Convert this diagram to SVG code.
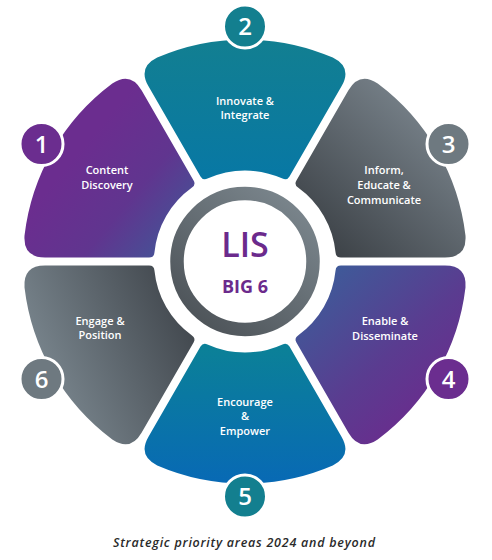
<svg xmlns="http://www.w3.org/2000/svg" width="492" height="560" viewBox="0 0 492 560">
<defs>
<path id="petal" d="M -44.5,-85.06 L -96.52,-175.17 Q -107.52,-194.22 -87.77,-203.92 A 222 222 0 0 1 87.77,-203.92 Q 107.52,-194.22 96.52,-175.17 L 44.5,-85.06 Q 42.0,-80.73 37.51,-82.91 A 91 91 0 0 0 -37.51,-82.91 Q -42.0,-80.73 -44.5,-85.06 Z"/>
<linearGradient id="g2" gradientUnits="userSpaceOnUse" x1="245" y1="40" x2="245" y2="175" gradientTransform="translate(-245 -261.5)">
<stop offset="0" stop-color="#127f91"/><stop offset="1" stop-color="#0878a4"/></linearGradient>
<linearGradient id="g3" gradientUnits="userSpaceOnUse" x1="420" y1="110" x2="300" y2="240" gradientTransform="rotate(-60) translate(-245 -261.5)">
<stop offset="0" stop-color="#757f87"/><stop offset="1" stop-color="#393e43"/></linearGradient>
<linearGradient id="g4" gradientUnits="userSpaceOnUse" x1="300" y1="280" x2="430" y2="420" gradientTransform="rotate(-120) translate(-245 -261.5)">
<stop offset="0" stop-color="#3b5e9a"/><stop offset="0.6" stop-color="#5a3c90"/><stop offset="1" stop-color="#6b2b8d"/></linearGradient>
<linearGradient id="g5" gradientUnits="userSpaceOnUse" x1="245" y1="350" x2="245" y2="485" gradientTransform="rotate(-180) translate(-245 -261.5)">
<stop offset="0" stop-color="#0b8098"/><stop offset="1" stop-color="#0869b5"/></linearGradient>
<linearGradient id="g6" gradientUnits="userSpaceOnUse" x1="40" y1="360" x2="200" y2="290" gradientTransform="rotate(-240) translate(-245 -261.5)">
<stop offset="0" stop-color="#77838b"/><stop offset="1" stop-color="#3b4046"/></linearGradient>
<linearGradient id="g1" gradientUnits="userSpaceOnUse" x1="80" y1="150" x2="200" y2="250" gradientTransform="rotate(-300) translate(-245 -261.5)">
<stop offset="0" stop-color="#6b2d8f"/><stop offset="0.45" stop-color="#60358f"/><stop offset="1" stop-color="#3b5d99"/></linearGradient>
<linearGradient id="gring" gradientUnits="userSpaceOnUse" x1="295" y1="200" x2="190" y2="330">
<stop offset="0" stop-color="#7a858c"/><stop offset="1" stop-color="#4b5156"/></linearGradient>
<style>
.lbl{fill:#ffffff;font-family:"Open Sans","DejaVu Sans",sans-serif;font-size:11px;font-weight:600;text-anchor:middle}
.num{fill:#ffffff;font-family:"Open Sans","DejaVu Sans",sans-serif;font-size:24px;font-weight:600;text-anchor:middle}
.badge{stroke:#ffffff;stroke-width:3}
.purple{fill:#6b2d8f}
.teal{fill:#137f8f}
.grey{fill:#6e7980}
</style>
</defs>
<rect width="492" height="560" fill="#ffffff"/>
<g id="connectors"></g>
<g id="center">
<circle cx="245" cy="261.5" r="68" fill="none" stroke="url(#gring)" stroke-width="13.5"/>
<text x="245" y="257" fill="#6b2a8c" font-family="Open Sans, DejaVu Sans, sans-serif" font-size="34" font-weight="600" text-anchor="middle">LIS</text>
<text x="245" y="293" fill="#6b2a8c" font-family="Open Sans, DejaVu Sans, sans-serif" font-size="18" font-weight="700" text-anchor="middle">BIG 6</text>
</g>
<g id="node2">
<use href="#petal" transform="translate(245 261.5)" fill="url(#g2)"/>
<text class="lbl" x="245" y="105">Innovate &amp;</text>
<text class="lbl" x="245" y="118.5">Integrate</text>
<circle class="badge teal" cx="245" cy="26.5" r="21.5"/>
<text class="num" x="245" y="35">2</text>
</g>
<g id="node3">
<use href="#petal" transform="translate(245 261.5) rotate(60)" fill="url(#g3)"/>
<text class="lbl" x="384" y="174">Inform,</text>
<text class="lbl" x="384" y="189">Educate &amp;</text>
<text class="lbl" x="384" y="204">Communicate</text>
<circle class="badge grey" cx="448.5" cy="144" r="21.5"/>
<text class="num" x="448.5" y="152.5">3</text>
</g>
<g id="node4">
<use href="#petal" transform="translate(245 261.5) rotate(120)" fill="url(#g4)"/>
<text class="lbl" x="385" y="325">Enable &amp;</text>
<text class="lbl" x="385" y="340">Disseminate</text>
<circle class="badge purple" cx="448.5" cy="379" r="21.5"/>
<text class="num" x="448.5" y="387.5">4</text>
</g>
<g id="node5">
<use href="#petal" transform="translate(245 261.5) rotate(180)" fill="url(#g5)"/>
<text class="lbl" x="245" y="405.5">Encourage</text>
<text class="lbl" x="245" y="420">&amp;</text>
<text class="lbl" x="245" y="435">Empower</text>
<circle class="badge teal" cx="245" cy="496.5" r="21.5"/>
<text class="num" x="245" y="505">5</text>
</g>
<g id="node6">
<use href="#petal" transform="translate(245 261.5) rotate(240)" fill="url(#g6)"/>
<text class="lbl" x="100" y="325">Engage &amp;</text>
<text class="lbl" x="100" y="339">Position</text>
<circle class="badge grey" cx="41.5" cy="379" r="21.5"/>
<text class="num" x="41.5" y="387.5">6</text>
</g>
<g id="node1">
<use href="#petal" transform="translate(245 261.5) rotate(300)" fill="url(#g1)"/>
<text class="lbl" x="107" y="174">Content</text>
<text class="lbl" x="107" y="189">Discovery</text>
<circle class="badge purple" cx="41.5" cy="144" r="21.5"/>
<text class="num" x="41.5" y="152.5">1</text>
</g>
<text x="244" y="547" fill="#2a2a2a" font-family="Open Sans, DejaVu Sans, sans-serif" font-size="12.5" font-style="italic" font-weight="600" text-anchor="middle" textLength="262" lengthAdjust="spacing">Strategic priority areas 2024 and beyond</text>
</svg>
